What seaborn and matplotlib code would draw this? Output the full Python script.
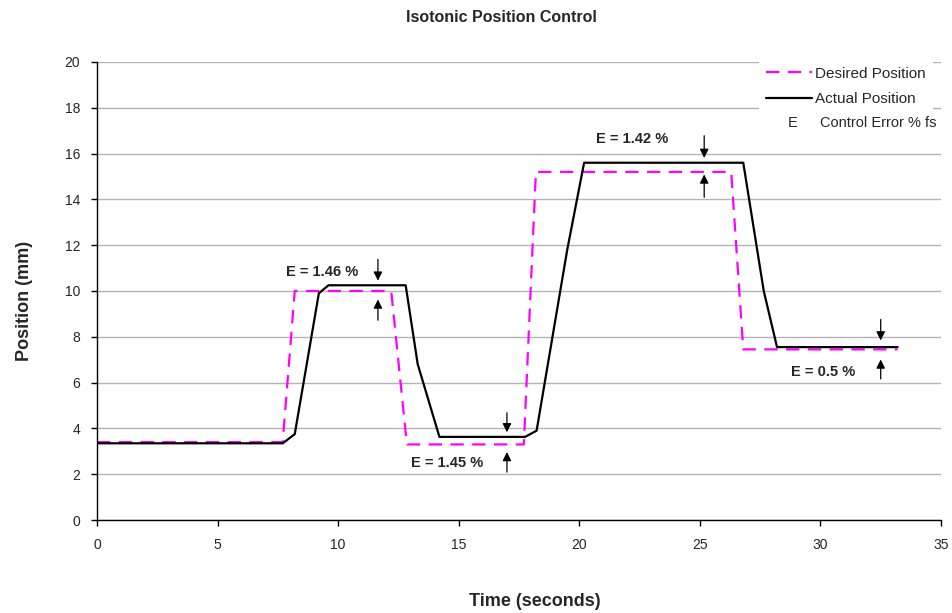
import pandas as pd
import numpy as np
import matplotlib.pyplot as plt
import seaborn as sns

sns.set_style('white')
plt.rcParams['font.family'] = ['Liberation Sans', 'DejaVu Sans']

# desired position (magenta dashed)
desired_t = [0, 7.7, 8.2, 12.2, 12.85, 17.7, 18.2, 26.3, 26.8, 33.2]
desired_pos = [3.4, 3.4, 10.0, 10.0, 3.3, 3.3, 15.2, 15.2, 7.45, 7.45]

# actual position (black)
actual_t = [0, 7.7, 8.2, 9.2, 9.6, 12.8, 13.3, 14.2, 17.75, 18.23, 19.5, 20.2, 26.8, 27.65, 28.2, 33.2]
actual_pos = [3.35, 3.35, 3.75, 9.9, 10.25, 10.25, 6.8, 3.63, 3.63, 3.9, 11.8, 15.6, 15.6, 10.0, 7.55, 7.55]

# control error annotations: label, text pos, arrow x, down arrow (from, to), up arrow (from, to)
err_labels = ['E = 1.46 %', 'E = 1.45 %', 'E = 1.42 %', 'E = 0.5 %']
err_text_x = [9.35, 14.5, 22.2, 30.1]
err_text_y = [10.83, 2.49, 16.64, 6.46]
err_arrow_x = [11.65, 17.0, 25.18, 32.5]
err_down = [(11.5, 10.33), (4.8, 3.71), (16.9, 15.69), (8.88, 7.72)]
err_up = [(8.6, 9.75), (1.97, 3.09), (13.97, 15.21), (6.04, 7.13)]

df_des = pd.DataFrame({'t': desired_t, 'pos': desired_pos})
df_act = pd.DataFrame({'t': actual_t, 'pos': actual_pos})

fig = plt.figure(figsize=(9.53, 6.13), dpi=100)
ax = fig.add_axes([0.1018, 0.1517, 0.8856, 0.7472])

sns.lineplot(data=df_des, x='t', y='pos', ax=ax, color='#ff00ff', lw=1.6,
             estimator=None, sort=False, label='Desired Position')
ax.lines[-1].set_dashes([6, 3.8])
sns.lineplot(data=df_act, x='t', y='pos', ax=ax, color='black', lw=1.6,
             estimator=None, sort=False, label='Actual Position')

for lab, tx, ty, axx, dn, up in zip(err_labels, err_text_x, err_text_y, err_arrow_x, err_down, err_up):
    ax.text(tx, ty, lab, ha='center', va='center', fontsize=10.5, fontweight='bold')
    ax.annotate('', xy=(axx, dn[1]), xytext=(axx, dn[0]),
                arrowprops=dict(arrowstyle='-|>', color='black', lw=0.9, mutation_scale=13))
    ax.annotate('', xy=(axx, up[1]), xytext=(axx, up[0]),
                arrowprops=dict(arrowstyle='-|>', color='black', lw=0.9, mutation_scale=13))

ax.set_xlim(0, 35)
ax.set_ylim(0, 20)
ax.set_xticks(np.arange(0, 36, 5))
ax.set_yticks(np.arange(0, 21, 2))
ax.yaxis.grid(True, color='#b4b4b4', lw=1)
ax.set_axisbelow(True)
for s in ['top', 'right']:
    ax.spines[s].set_visible(False)
for s in ['left', 'bottom']:
    ax.spines[s].set_color('black')
    ax.spines[s].set_linewidth(1)
ax.tick_params(axis='both', direction='out', length=4, width=1, labelsize=10, color='black',
               bottom=True, left=True)
ax.tick_params(axis='x', pad=9)
ax.tick_params(axis='y', pad=8)

ax.set_xlabel('Time (seconds)', fontsize=13, fontweight='bold')
ax.set_ylabel('Position (mm)', fontsize=13, fontweight='bold')
ax.xaxis.set_label_coords(0.519, -0.16)
ax.yaxis.set_label_coords(-0.076, 0.478)
fig.text(501 / 953, 1 - 17 / 613, 'Isotonic Position Control', ha='center', va='center',
         fontsize=11.5, fontweight='bold')

# legend: two line entries in a white box
leg = ax.legend(loc='upper right', bbox_to_anchor=(1.0, 1.023), frameon=True, fontsize=11,
                handlelength=3.0, handletextpad=0.2, labelspacing=0.73, borderpad=0.5,
                fancybox=False)
leg.get_frame().set_edgecolor('white')
leg.get_frame().set_facecolor('white')
leg.get_frame().set_alpha(1)
leg.get_frame().set_linewidth(0)

# third legend row: E = Control Error % fs (pixel coordinates from top-left)
ax.text(793, 613 - 123, 'E', transform=None, ha='center', va='center', fontsize=10.5)
ax.text(820, 613 - 123, 'Control Error % fs', transform=None, ha='left', va='center', fontsize=10.5)

fig.savefig('out.png', dpi=100)
